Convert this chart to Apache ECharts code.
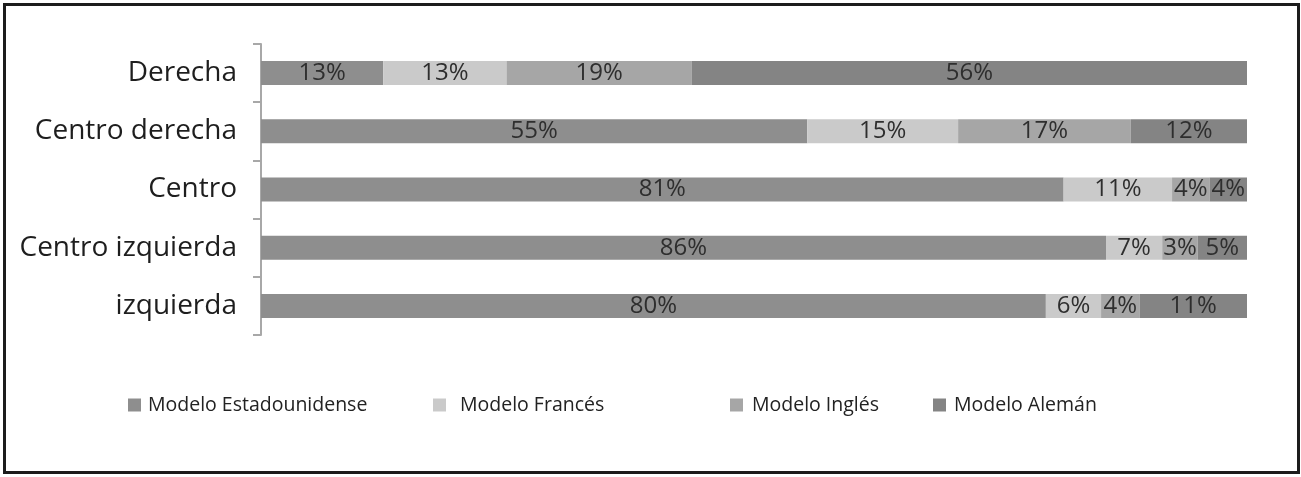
<!DOCTYPE html>
<html>
<head>
<meta charset="utf-8">
<script src="https://cdn.jsdelivr.net/npm/echarts@6/dist/echarts.min.js"></script>
<style>
html,body{margin:0;padding:0;background:#fff;}
#c{width:1301px;height:477px;}
</style>
</head>
<body>
<div id="c"></div>
<script>
const categories = ['Derecha', 'Centro derecha', 'Centro', 'Centro izquierda', 'izquierda'];
const seriesNames = ['Modelo Estadounidense', 'Modelo Francés', 'Modelo Inglés', 'Modelo Alemán'];
// segment shares (as drawn)
const estadounidense = [12.4, 55.4, 81.4, 85.7, 79.6];
const frances = [12.5, 15.3, 11.0, 5.7, 5.6];
const ingles = [18.8, 17.5, 3.8, 3.6, 3.9];
const aleman = [56.3, 11.8, 3.8, 5.0, 10.9];
// printed labels
const estadounidenseLabels = [13, 55, 81, 86, 80];
const francesLabels = [13, 15, 11, 7, 6];
const inglesLabels = [19, 17, 4, 3, 4];
const alemanLabels = [56, 12, 4, 5, 11];

const colors = ['#8e8e8e', '#cacaca', '#a6a6a6', '#848484'];
const values = [estadounidense, frances, ingles, aleman];
const labels = [estadounidenseLabels, francesLabels, inglesLabels, alemanLabels];
const FONT = '"Open Sans", "DejaVu Sans", sans-serif';

const chart = echarts.init(document.getElementById('c'), null, {renderer: 'canvas'});

const legendLefts = [128, 433, 730, 933];
const legendPad = [[0,0,0,2],[0,0,0,9],[0,0,0,4],[0,0,0,3]];

chart.setOption({
  animation: false,
  backgroundColor: '#ffffff',
  graphic: [{
    type: 'rect',
    shape: {x: 4.5, y: 4.5, width: 1294, height: 468},
    style: {fill: 'none', stroke: '#1c1c1c', lineWidth: 3},
    silent: true
  }],
  grid: {left: 261, right: 54, top: 44, height: 291, containLabel: false},
  xAxis: {
    type: 'value', min: 0, max: 100, show: false
  },
  yAxis: {
    type: 'category',
    data: categories,
    inverse: true,
    axisLine: {show: true, lineStyle: {color: '#a8a8a8', width: 2}},
    axisTick: {show: true, length: 8, inside: false, alignWithLabel: false, lineStyle: {color: '#a8a8a8', width: 2}},
    axisLabel: {fontFamily: FONT, fontSize: 28, color: '#1e1e1e', margin: 24}
  },
  legend: seriesNames.map((n, i) => ({
    data: [n],
    left: legendLefts[i],
    top: 395,
    padding: 0,
    itemWidth: 13,
    itemHeight: 13,
    icon: 'rect',
    textStyle: {fontFamily: FONT, fontSize: 19.5, color: '#222', padding: legendPad[i]},
    selectedMode: false
  })),
  series: seriesNames.map((n, i) => ({
    name: n,
    type: 'bar',
    stack: 'total',
    barWidth: 24,
    data: values[i],
    itemStyle: {color: colors[i]},
    label: {
      show: true,
      position: 'inside',
      fontFamily: FONT,
      fontSize: 24,
      color: '#2e2e2e',
      formatter: p => labels[i][p.dataIndex] + '%'
    }
  }))
});
</script>
</body>
</html>
